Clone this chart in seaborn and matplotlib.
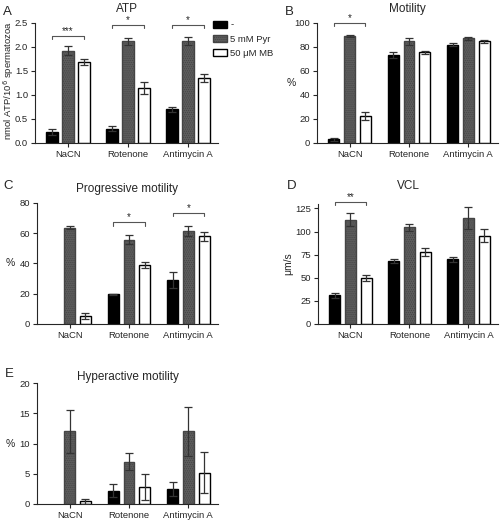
import numpy as np
import pandas as pd
import matplotlib.pyplot as plt
import seaborn as sns
from matplotlib.patches import Patch

sns.set_style('ticks')
plt.rcParams['font.family'] = ['Liberation Sans', 'DejaVu Sans']
plt.rcParams['hatch.linewidth'] = 0.5

# Datos
inhibitors = ['NaCN', 'Rotenone', 'Antimycin A']
treatments = ['-', '5 mM Pyr', '50 \u03bcM MB']

atp_mean = [[0.23, 0.30, 0.70], [1.92, 2.12, 2.13], [1.68, 1.15, 1.35]]
atp_err = [[0.06, 0.06, 0.05], [0.09, 0.07, 0.08], [0.06, 0.12, 0.09]]

mot_mean = [[3.0, 73.5, 82.0], [89.0, 84.5, 87.0], [22.5, 75.5, 84.5]]
mot_err = [[1.5, 2.5, 1.5], [1.0, 2.5, 1.0], [3.5, 1.5, 1.0]]

prog_mean = [[0.0, 19.5, 29.0], [63.5, 55.5, 61.5], [5.0, 39.0, 58.0]]
prog_err = [[0.0, 0.5, 5.0], [1.0, 3.0, 3.5], [2.0, 2.0, 3.0]]

vcl_mean = [[31.0, 68.0, 70.0], [113.0, 104.5, 114.5], [50.0, 78.0, 95.5]]
vcl_err = [[3.0, 2.0, 3.0], [7.0, 3.5, 12.0], [3.0, 4.0, 7.0]]

hyp_mean = [[0.0, 2.2, 2.5], [12.0, 7.0, 12.0], [0.4, 2.8, 5.2]]
hyp_err = [[0.0, 1.1, 1.2], [3.6, 1.4, 4.1], [0.4, 2.2, 3.4]]

# (grupo, altura, etiqueta)
atp_sig = [(0, 2.22, '***'), (1, 2.45, '*'), (2, 2.45, '*')]
mot_sig = [(0, 100, '*')]
prog_sig = [(1, 67, '*'), (2, 73.5, '*')]
vcl_sig = [(0, 132, '**')]

face = ['black', '#5c5c5c', 'white']


def panel(ax, mean, err, title, ylabel, ylim, yticks, sigs, fmt='{:g}'):
    rows = []
    for j, t in enumerate(treatments):
        for i, c in enumerate(inhibitors):
            rows.append({'inhibitor': c, 'treatment': t, 'value': mean[j][i], 'err': err[j][i]})
    df = pd.DataFrame(rows)
    sns.barplot(data=df, x='inhibitor', y='value', hue='treatment', order=inhibitors,
                hue_order=treatments, palette=face, errorbar=None, width=0.8, gap=0.31,
                edgecolor='black', linewidth=1.0, legend=False, ax=ax)
    bars = list(ax.containers)[:3]
    for j, cont in enumerate(bars):
        for i, bar in enumerate(cont):
            if j == 1:
                bar.set_hatch('........')
                bar.set_edgecolor('#444444')
            if mean[j][i] == 0 and j == 0:
                bar.set_visible(False)
                continue
            xc = bar.get_x() + bar.get_width() / 2
            if err[j][i] > 0:
                ax.errorbar(xc, mean[j][i], yerr=err[j][i], color='#333333', lw=0.9,
                            capsize=2.8, capthick=0.9, zorder=5)
    # corchetes de significancia
    h = (ylim[1] - ylim[0]) * 0.025
    for g, y, lab in sigs:
        x0 = bars[0][g].get_x() + bars[0][g].get_width() / 2
        x1 = bars[2][g].get_x() + bars[2][g].get_width() / 2
        ax.plot([x0, x0, x1, x1], [y - h, y, y, y - h], color='#555555', lw=0.8, clip_on=False)
        ax.text((x0 + x1) / 2, y, lab, ha='center', va='bottom', fontsize=7)
    ax.set_xlim(-0.55, 2.5)
    ax.set_ylim(*ylim)
    ax.set_yticks(yticks)
    ax.set_yticklabels([fmt.format(v) for v in yticks])
    ax.set_xlabel('')
    ax.set_ylabel(ylabel, fontsize=7.5)
    ax.set_title(title, fontsize=8.5, pad=8)
    ax.tick_params(labelsize=6.8, length=3, width=0.8, pad=2)
    sns.despine(ax=ax)


fig = plt.figure(figsize=(5, 5.2), dpi=100)
axA = fig.add_axes([0.07, 0.725, 0.366, 0.231])
axB = fig.add_axes([0.634, 0.725, 0.362, 0.231])
axC = fig.add_axes([0.074, 0.377, 0.362, 0.233])
axD = fig.add_axes([0.636, 0.377, 0.360, 0.231])
axE = fig.add_axes([0.074, 0.031, 0.362, 0.232])

panel(axA, atp_mean, atp_err, 'ATP', '', (0, 2.5),
      [0, 0.5, 1.0, 1.5, 2.0, 2.5], atp_sig, fmt='{:.1f}')
panel(axB, mot_mean, mot_err, 'Motility', '%', (0, 100), [0, 20, 40, 60, 80, 100], mot_sig)
panel(axC, prog_mean, prog_err, 'Progressive motility', '%', (0, 80), [0, 20, 40, 60, 80], prog_sig)
panel(axD, vcl_mean, vcl_err, 'VCL', '\u03bcm/s', (0, 130), [0, 25, 50, 75, 100, 125], vcl_sig)
panel(axE, hyp_mean, hyp_err, 'Hyperactive motility', '%', (0, 20), [0, 5, 10, 15, 20], [])

# etiqueta del eje y del panel A, colocada a mano para que no se corte
fig.text(0.018, 0.845, 'nmol ATP/10$^6$ spermatozoa', rotation=90, ha='center', va='center',
         fontsize=6.8)

for ax in [axB, axC, axE]:
    ax.yaxis.label.set_rotation(0)
    ax.yaxis.label.set_va('center')
    ax.yaxis.label.set_ha('center')
axB.yaxis.set_label_coords(-0.14, 0.5)
axC.yaxis.set_label_coords(-0.15, 0.5)
axD.yaxis.set_label_coords(-0.135, 0.5)
axE.yaxis.set_label_coords(-0.15, 0.5)
axD.set_title('VCL', fontsize=8.5, pad=11)
axE.set_title('Hyperactive motility', fontsize=8.5, pad=1)

handles = [Patch(facecolor='black', edgecolor='black'),
           Patch(facecolor='#5c5c5c', edgecolor='#444444', hatch='........'),
           Patch(facecolor='white', edgecolor='black')]
fig.legend(handles, treatments, loc='upper left', bbox_to_anchor=(0.408, 0.977), frameon=False,
           fontsize=6.8, handlelength=1.5, handleheight=0.8, labelspacing=0.55, handletextpad=0.4)

for lab, x, y in [('A', 0.006, 0.988), ('B', 0.57, 0.988), ('C', 0.006, 0.653), ('D', 0.574, 0.653),
                  ('E', 0.01, 0.292)]:
    fig.text(x, y, lab, fontsize=9.5, va='top')

fig.savefig('out.png', dpi=100)
